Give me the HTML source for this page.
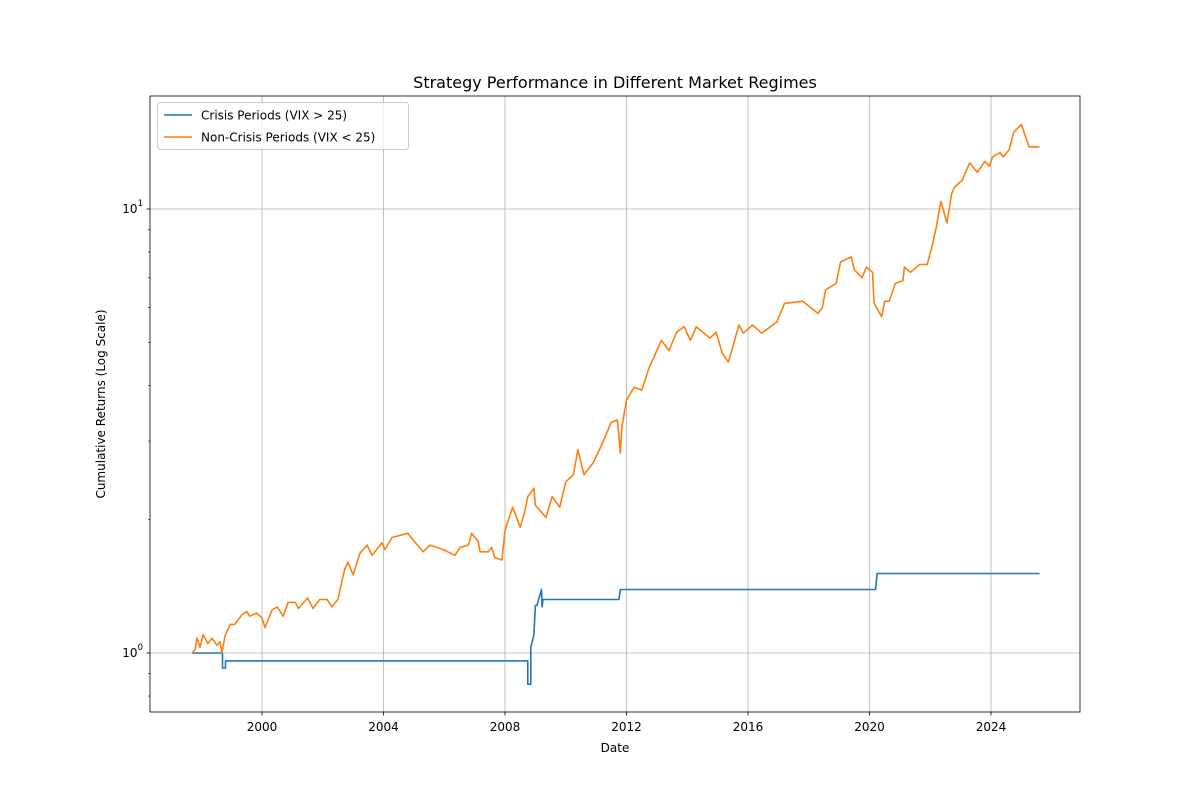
<!DOCTYPE html>
<html><head><meta charset="utf-8"><style>
body{margin:0;background:#fff;font-family:"Liberation Sans","DejaVu Sans",sans-serif;}
svg text{font-family:"DejaVu Sans","Liberation Sans",sans-serif;}
</style></head><body>
<svg id="chart" width="1200" height="800"></svg>
<script>
// data
const orangeYears=[1997.7,1997.8,1997.86,1997.96,1998.06,1998.22,1998.35,1998.52,1998.62,1998.68,1998.78,1998.95,1999.1,1999.34,1999.5,1999.6,1999.83,2000.0,2000.1,2000.33,2000.5,2000.7,2000.86,2001.1,2001.2,2001.5,2001.68,2001.9,2002.14,2002.3,2002.5,2002.64,2002.73,2002.83,2003.0,2003.23,2003.46,2003.62,2003.95,2004.05,2004.28,2004.8,2004.97,2005.3,2005.53,2005.96,2006.35,2006.52,2006.8,2006.9,2007.12,2007.18,2007.45,2007.56,2007.66,2007.9,2008.0,2008.25,2008.5,2008.65,2008.75,2008.95,2009.0,2009.35,2009.55,2009.8,2010.0,2010.25,2010.4,2010.6,2010.9,2011.15,2011.5,2011.7,2011.8,2011.85,2012.0,2012.25,2012.5,2012.75,2013.0,2013.15,2013.4,2013.65,2013.9,2014.1,2014.3,2014.75,2014.95,2015.15,2015.35,2015.5,2015.7,2015.85,2016.15,2016.45,2016.95,2017.2,2017.8,2018.3,2018.45,2018.55,2018.9,2019.05,2019.4,2019.5,2019.75,2019.9,2020.1,2020.15,2020.4,2020.5,2020.65,2020.85,2021.1,2021.15,2021.35,2021.65,2021.9,2022.05,2022.2,2022.35,2022.55,2022.7,2022.8,2023.05,2023.3,2023.55,2023.8,2023.95,2024.05,2024.3,2024.4,2024.6,2024.75,2025.0,2025.25,2025.6];
const orangeValues=[1.0,1.02,1.08,1.03,1.1,1.05,1.08,1.04,1.06,1.0,1.09,1.16,1.16,1.22,1.24,1.21,1.23,1.2,1.14,1.25,1.27,1.21,1.30,1.30,1.26,1.33,1.26,1.32,1.32,1.27,1.32,1.46,1.55,1.6,1.5,1.68,1.75,1.66,1.77,1.71,1.82,1.86,1.8,1.69,1.75,1.71,1.66,1.73,1.75,1.86,1.78,1.69,1.69,1.73,1.64,1.62,1.89,2.13,1.92,2.08,2.25,2.35,2.15,2.02,2.25,2.13,2.43,2.52,2.87,2.52,2.68,2.91,3.31,3.35,2.82,3.23,3.71,3.97,3.91,4.4,4.8,5.06,4.8,5.28,5.43,5.06,5.43,5.12,5.28,4.74,4.52,4.89,5.48,5.25,5.48,5.25,5.57,6.13,6.2,5.82,6.0,6.57,6.8,7.6,7.8,7.3,7.0,7.4,7.2,6.14,5.72,6.2,6.2,6.8,6.9,7.4,7.2,7.5,7.5,8.2,9.1,10.4,9.3,10.8,11.2,11.6,12.7,12.1,12.8,12.5,13.1,13.4,13.1,13.6,14.9,15.5,13.8,13.8];
const blueYears=[1997.7,1998.7,1998.7,1998.8,1998.8,2008.75,2008.75,2008.85,2008.85,2008.95,2009.0,2009.05,2009.2,2009.22,2009.25,2009.3,2011.75,2011.8,2020.2,2020.25,2025.6];
const blueValues=[1.0,1.0,0.925,0.925,0.96,0.96,0.85,0.85,1.03,1.1,1.28,1.28,1.39,1.27,1.32,1.32,1.32,1.39,1.39,1.51,1.51];
const xTicks=[2000,2004,2008,2012,2016,2020,2024];
const yMajor=[1,10];
const yMinor=[0.8,0.9,2,3,4,5,6,7,8,9];

const L=150,R=1080,T=96,B=712;
const xs=y=>262+(y-2000)*(729/24);
const ys=v=>653-444*Math.log10(v);
const svg=document.getElementById('chart');
const NS='http://www.w3.org/2000/svg';
function mk(tag,attrs,parent){const e=document.createElementNS(NS,tag);for(const k in attrs)e.setAttribute(k,attrs[k]);(parent||svg).appendChild(e);return e;}

xTicks.forEach(t=>{const l=mk('line',{x1:xs(t),x2:xs(t),y1:T,y2:B,stroke:'#b0b0b0','stroke-width':0.8});

});
yMajor.forEach(t=>{const l=mk('line',{x1:L,x2:R,y1:ys(t),y2:ys(t),stroke:'#b0b0b0','stroke-width':0.8});

});

function poly(xa,va,color,name){const p=mk('polyline',{points:xa.map((x,i)=>xs(x).toFixed(1)+','+ys(va[i]).toFixed(1)).join(' '),fill:'none',stroke:color,'stroke-width':1.6,'stroke-linejoin':'round'});

}
poly(blueYears,blueValues,'#1f77b4','crisis-line');
poly(orangeYears,orangeValues,'#ff7f0e','non-crisis-line');

const fr=mk('rect',{x:L,y:T,width:R-L,height:B-T,fill:'none',stroke:'#000','stroke-width':0.8});



xTicks.forEach(t=>{mk('line',{x1:xs(t),x2:xs(t),y1:B,y2:B+3.5,stroke:'#000','stroke-width':0.8});
const tx=mk('text',{x:xs(t),y:B+19,'text-anchor':'middle','font-size':12});tx.textContent=t;

});
yMajor.forEach(t=>{mk('line',{x1:L-3.5,x2:L,y1:ys(t),y2:ys(t),stroke:'#000','stroke-width':0.8});
const tx=mk('text',{x:L-7,y:ys(t)+4,'text-anchor':'end','font-size':12});
tx.innerHTML='10<tspan dy="-7" font-size="8.5">'+Math.log10(t)+'</tspan>';

});
yMinor.forEach(t=>{mk('line',{x1:L-2,x2:L,y1:ys(t),y2:ys(t),stroke:'#000','stroke-width':0.6});});
</script>
<svg width="1200" height="800" style="position:absolute;left:0;top:0">
<text x="615" y="88" text-anchor="middle" font-size="16">Strategy Performance in Different Market Regimes</text>
<text x="615" y="752" text-anchor="middle" font-size="12">Date</text>
<text transform="translate(105,404) rotate(-90)" text-anchor="middle" font-size="12">Cumulative Returns (Log Scale)</text>
<g>
<rect x="157.5" y="102.5" width="251" height="47" rx="3" fill="#fff" fill-opacity="0.8" stroke="#ccc"/>
<line x1="164" x2="192" y1="115" y2="115" stroke="#1f77b4" stroke-width="1.5"/>
<text x="201" y="119.5" font-size="12">Crisis Periods (VIX &gt; 25)</text>
<line x1="164" x2="192" y1="137" y2="137" stroke="#ff7f0e" stroke-width="1.5"/>
<text x="201" y="141.5" font-size="12">Non-Crisis Periods (VIX &lt; 25)</text>
</g>
</svg>
</body></html>
